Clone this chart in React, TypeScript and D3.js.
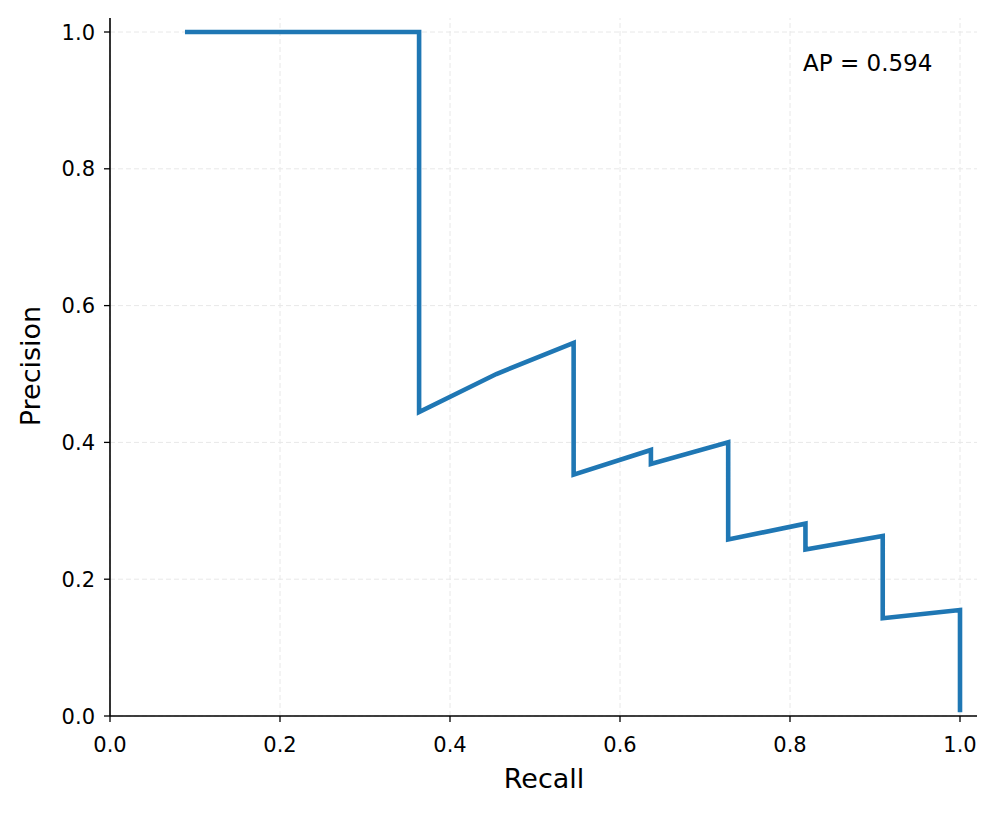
import React from "react";
import * as d3 from "d3";

const recall = [1/11, 2/11, 3/11, 4/11, 4/11, 5/11, 6/11, 6/11, 7/11, 7/11, 8/11, 8/11, 9/11, 9/11, 10/11, 10/11, 1.0, 1.0];
const precision = [1.0, 1.0, 1.0, 1.0, 4/9, 5/10, 6/11, 6/17, 7/18, 7/19, 8/20, 8/31, 9/32, 9/37, 10/38, 10/70, 11/71, 0.009];
const xTicks = [0, 0.2, 0.4, 0.6, 0.8, 1.0];
const yTicks = [0, 0.2, 0.4, 0.6, 0.8, 1.0];
const apLabel = "AP = 0.594";

export default function App() {
  const W = 997, H = 813;
  const x = d3.scaleLinear().domain([0, 1]).range([110, 960]);
  const y = d3.scaleLinear().domain([0, 1]).range([716, 32]);
  const xMax = x.invert(977);
  const yMax = y.invert(18);
  const pts = recall.map((r, i) => [r, precision[i]] as [number, number]);
  const line = d3.line<[number, number]>().x(d => x(d[0])).y(d => y(d[1]));
  const font = "'DejaVu Sans', sans-serif";
  return (
    <svg width={W} height={H} style={{ position: "absolute", left: 0, top: 0 }}>
      <rect width={W} height={H} fill="white" />
      {xTicks.map(t => (
        <line key={"gx" + t} x1={x(t)} x2={x(t)} y1={y(0)} y2={y(yMax)} stroke="#e8e8e8" strokeWidth={1} strokeDasharray="5,3" />
      ))}
      {yTicks.map(t => (
        <line key={"gy" + t} x1={x(0)} x2={x(xMax)} y1={y(t)} y2={y(t)} stroke="#e8e8e8" strokeWidth={1} strokeDasharray="5,3" />
      ))}
      <path d={line(pts) || ""} fill="none" stroke="#1f77b4" strokeWidth={4.6} strokeLinecap="square" strokeLinejoin="miter" />
      <line x1={x(0)} x2={x(0)} y1={y(0)} y2={y(yMax)} stroke="black" strokeWidth={1.6} />
      <line x1={x(0)} x2={x(xMax)} y1={y(0)} y2={y(0)} stroke="black" strokeWidth={1.6} />
      {xTicks.map(t => (
        <g key={"tx" + t}>
          <line x1={x(t)} x2={x(t)} y1={y(0)} y2={y(0) + 6} stroke="black" strokeWidth={1.3} />
          <text x={x(t)} y={752} textAnchor="middle" fontFamily={font} fontSize={21}>{t.toFixed(1)}</text>
        </g>
      ))}
      {yTicks.map(t => (
        <g key={"ty" + t}>
          <line x1={x(0) - 6} x2={x(0)} y1={y(t)} y2={y(t)} stroke="black" strokeWidth={1.3} />
          <text x={x(0) - 15} y={y(t)} dy="0.36em" textAnchor="end" fontFamily={font} fontSize={21}>{t.toFixed(1)}</text>
        </g>
      ))}
      <text x={544} y={788} textAnchor="middle" fontFamily={font} fontSize={27}>Recall</text>
      <text transform={`translate(40, 366) rotate(-90)`} textAnchor="middle" fontFamily={font} fontSize={27}>Precision</text>
      <text x={803} y={71} fontFamily={font} fontSize={23}>{apLabel}</text>
    </svg>
  );
}
